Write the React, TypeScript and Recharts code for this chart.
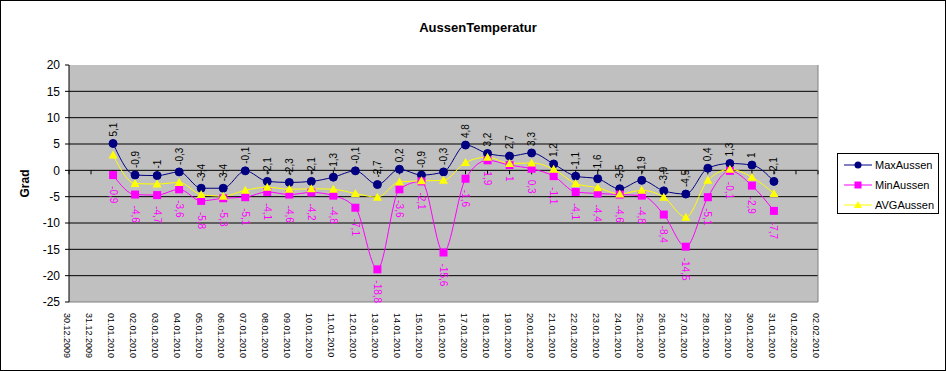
import React from 'react'
import {
  LineChart,
  Line,
  XAxis,
  YAxis,
  CartesianGrid,
  ReferenceLine,
  LabelList,
} from 'recharts'

const dates = [
  '30.12.2009', '31.12.2009',
  '01.01.2010', '02.01.2010', '03.01.2010', '04.01.2010', '05.01.2010', '06.01.2010', '07.01.2010',
  '08.01.2010', '09.01.2010', '10.01.2010', '11.01.2010', '12.01.2010', '13.01.2010', '14.01.2010',
  '15.01.2010', '16.01.2010', '17.01.2010', '18.01.2010', '19.01.2010', '20.01.2010', '21.01.2010',
  '22.01.2010', '23.01.2010', '24.01.2010', '25.01.2010', '26.01.2010', '27.01.2010', '28.01.2010',
  '29.01.2010', '30.01.2010', '31.01.2010',
  '01.02.2010', '02.02.2010',
]

// values for 01.01.2010 .. 31.01.2010
const maxAussen = [
  5.1, -0.9, -1, -0.3, -3.4, -3.4, -0.1, -2.1, -2.3, -2.1, -1.3, -0.1, -2.7, 0.2, -0.9, -0.3,
  4.8, 3.2, 2.7, 3.3, 1.2, -1.1, -1.6, -3.5, -1.9, -3.9, -4.5, 0.4, 1.3, 1, -2.1,
]
const minAussen = [
  -0.9, -4.6, -4.7, -3.6, -5.8, -5.3, -5.1, -4.1, -4.6, -4.2, -4.8, -7.1, -18.8, -3.6, -2.1, -15.6,
  -1.6, 1.9, 1, 0.3, -1.1, -4.1, -4.4, -4.6, -4.8, -8.4, -14.5, -5.1, -0.1, -2.9, -7.7,
]
const avgAussen = [
  2.9, -2.5, -2.6, -2.3, -4.6, -4.9, -3.8, -3.2, -3.6, -3.5, -3.6, -4.4, -5.1, -2.2, -2.0, -1.9,
  1.5, 2.5, 1.3, 1.4, 0.2, -2.5, -3.3, -4.5, -3.8, -5.1, -8.9, -1.9, 0.2, -1.3, -4.4,
]
const firstValueIndex = 2

const yTicks = [20, 15, 10, 5, 0, -5, -10, -15, -20, -25]

const data = dates.map((date, i) => {
  const k = i - firstValueIndex
  return {
    date,
    max: maxAussen[k] ?? null,
    min: minAussen[k] ?? null,
    avg: avgAussen[k] ?? null,
    zero: 0,
  }
})

const FONT = "Arial, 'Liberation Sans', sans-serif"
const fmt = (v: number) => String(v).replace('.', ',')

const DateTick = ({ x, y, payload }: any) => (
  <text
    x={x - 2}
    y={y}
    transform={`rotate(90 ${x - 2} ${y})`}
    textAnchor="start"
    dominantBaseline="central"
    fontSize={9}
    fontFamily={FONT}
    fill="#000"
  >
    {payload.value}
  </text>
)

const MaxLabel = ({ x, y, value }: any) => {
  if (value == null) return null
  const ty = y - 7
  return (
    <text x={x} y={ty} transform={`rotate(-90 ${x} ${ty})`} textAnchor="start"
      dominantBaseline="central" fontSize={10} fontFamily={FONT} fill="#000">
      {fmt(value)}
    </text>
  )
}

const MinLabel = ({ x, y, value }: any) => {
  if (value == null) return null
  const ty = y + 11
  return (
    <text x={x} y={ty} transform={`rotate(90 ${x} ${ty})`} textAnchor="start"
      dominantBaseline="central" fontSize={10} fontFamily={FONT} fill="#FF00FF">
      {fmt(value)}
    </text>
  )
}

const CircleDot = ({ cx, cy, value }: any) =>
  value == null ? null : <circle cx={cx} cy={cy} r={4} fill="#000080" stroke="#000080" />

const SquareDot = ({ cx, cy, value }: any) =>
  value == null ? null : <rect x={cx - 4} y={cy - 4} width={8} height={8} fill="#FF00FF" />

const TriangleDot = ({ cx, cy, value }: any) =>
  value == null ? null : (
    <polygon points={`${cx},${cy - 4.5} ${cx + 4.5},${cy + 3.5} ${cx - 4.5},${cy + 3.5}`} fill="#FFFF00" />
  )

// small tick marks on the zero line
const ZeroTick = ({ cx, cy }: any) => (
  <line x1={cx} y1={cy} x2={cx} y2={cy + 4} stroke="#000" strokeWidth={1} />
)

const legendItems = [
  { name: 'MaxAussen', color: '#000080', marker: 'circle' },
  { name: 'MinAussen', color: '#FF00FF', marker: 'square' },
  { name: 'AVGAussen', color: '#FFFF00', marker: 'triangle' },
]

export default function App() {
  return (
    <div
      style={{
        position: 'absolute',
        left: 0,
        top: 0,
        width: 946,
        height: 371,
        boxSizing: 'border-box',
        border: '1px solid #000',
        background: '#fff',
        fontFamily: FONT,
      }}
    >
      <div
        style={{
          position: 'absolute',
          left: 0,
          width: 946,
          top: 19,
          textAlign: 'center',
          fontSize: 13,
          fontWeight: 'bold',
          paddingLeft: 8,
          boxSizing: 'border-box',
        }}
      >
        AussenTemperatur
      </div>
      <div style={{ position: 'absolute', left: -1, top: -1 }}>
        <LineChart
          width={946}
          height={371}
          data={data}
          margin={{ top: 65, right: 128, bottom: 9, left: 0 }}
        >
          <CartesianGrid
            vertical={false}
            horizontalValues={[15, 10, 5, 0, -5, -10, -15, -20]}
            stroke="#000"
            strokeOpacity={1}
            fill="#C0C0C0"
            fillOpacity={1}
          />
          <XAxis
            dataKey="date"
            interval={0}
            axisLine={false}
            tickLine={false}
            tickSize={0}
            tickMargin={11}
            height={60}
            tick={<DateTick />}
          />
          <YAxis
            domain={[-25, 20]}
            ticks={yTicks}
            width={69}
            interval={0}
            axisLine={{ stroke: '#000' }}
            tickLine={{ stroke: '#000' }}
            tickSize={4}
            tickMargin={5}
            tick={{ fill: '#000', fontSize: 12, fontFamily: FONT }}
            label={{
              value: 'Grad',
              angle: -90,
              position: 'insideLeft',
              dx: 20,
              fill: '#000',
              fontSize: 12,
              fontWeight: 'bold',
              fontFamily: FONT,
              style: { textAnchor: 'middle' },
            }}
          />
          <ReferenceLine y={-25} stroke="#808080" />
          <ReferenceLine x="02.02.2010" stroke="#808080" />
          <Line
            dataKey="zero"
            stroke="none"
            dot={<ZeroTick />}
            activeDot={false}
            legendType="none"
            isAnimationActive={false}
          />
          <Line
            dataKey="max"
            type="monotone"
            stroke="#000080"
            strokeWidth={1}
            dot={<CircleDot />}
            activeDot={false}
            isAnimationActive={false}
          >
            <LabelList dataKey="max" content={<MaxLabel />} />
          </Line>
          <Line
            dataKey="min"
            type="monotone"
            stroke="#FF00FF"
            strokeWidth={1}
            dot={<SquareDot />}
            activeDot={false}
            isAnimationActive={false}
          >
            <LabelList dataKey="min" content={<MinLabel />} />
          </Line>
          <Line
            dataKey="avg"
            type="monotone"
            stroke="#FFFF00"
            strokeWidth={1}
            dot={<TriangleDot />}
            activeDot={false}
            isAnimationActive={false}
          />
        </LineChart>
      </div>
      {/* legend box */}
      <div
        style={{
          position: 'absolute',
          left: 836,
          top: 152,
          width: 102,
          height: 61,
          boxSizing: 'border-box',
          border: '1px solid #000',
          background: '#fff',
        }}
      >
        {legendItems.map((item, i) => (
          <div
            key={item.name}
            style={{
              position: 'absolute',
              left: 6,
              top: 4 + i * 20,
              height: 14,
              display: 'flex',
              alignItems: 'center',
              fontSize: 11,
              whiteSpace: 'nowrap',
            }}
          >
            <svg width={28} height={14} style={{ marginRight: 3 }}>
              <line x1={0} y1={7} x2={28} y2={7} stroke={item.color} strokeWidth={1} />
              {item.marker === 'circle' && <circle cx={14} cy={7} r={3.5} fill={item.color} />}
              {item.marker === 'square' && <rect x={10.5} y={3.5} width={7} height={7} fill={item.color} />}
              {item.marker === 'triangle' && (
                <polygon points="14,3 18,10 10,10" fill={item.color} />
              )}
            </svg>
            {item.name}
          </div>
        ))}
      </div>
    </div>
  )
}
